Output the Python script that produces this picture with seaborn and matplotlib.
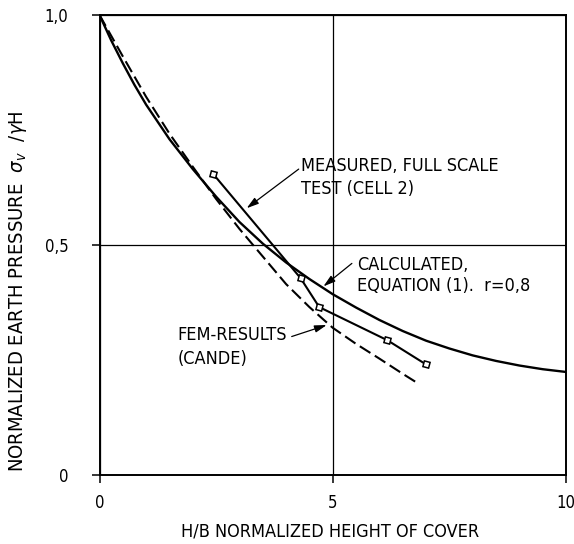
import matplotlib
matplotlib.use("Agg")
import matplotlib.pyplot as plt
import seaborn as sns
import pandas as pd

# ---- data ----
calc_x = [0, 0.25, 0.5, 0.75, 1, 1.5, 2, 2.5, 3, 3.5, 4, 4.5, 5, 5.5, 6, 6.5, 7, 7.5, 8, 8.5, 9, 9.5, 10]
calc_y = [1.0, 0.945, 0.895, 0.848, 0.805, 0.73, 0.665, 0.605, 0.55, 0.503, 0.462, 0.426, 0.393,
          0.364, 0.337, 0.313, 0.292, 0.275, 0.26, 0.248, 0.238, 0.23, 0.224]

fem_x = [0, 0.25, 0.5, 1, 1.5, 2, 2.5, 3, 3.5, 4, 4.5, 5, 5.5, 6, 6.5, 6.83]
fem_y = [1.0, 0.955, 0.91, 0.822, 0.742, 0.67, 0.60, 0.535, 0.475, 0.415, 0.365, 0.32, 0.285,
         0.253, 0.22, 0.199]

meas_x = [2.44, 4.31, 4.71, 6.17, 6.99]
meas_y = [0.654, 0.428, 0.365, 0.293, 0.241]

x_ticks = [0, 5, 10]
x_ticklabels = ["0", "5", "10"]
y_ticks = [0, 0.5, 1.0]
y_ticklabels = ["0", "0,5", "1,0"]

calc_df = pd.DataFrame({"x": calc_x, "y": calc_y})
fem_df = pd.DataFrame({"x": fem_x, "y": fem_y})
meas_df = pd.DataFrame({"x": meas_x, "y": meas_y})

sns.set_theme(style="ticks")
plt.rcParams["font.family"] = ["DejaVu Sans"]
plt.rcParams["font.stretch"] = "condensed"
plt.rcParams["text.color"] = "black"

W, H = 574, 544
fig = plt.figure(figsize=(W / 100, H / 100), dpi=100)
fig.patch.set_facecolor("white")
ax = fig.add_axes([99.5 / W, 1 - 475 / H, (566 - 99.5) / W, (475 - 15) / H])
ax.set_facecolor("white")

sns.lineplot(data=calc_df, x="x", y="y", ax=ax, color="black", lw=1.7, sort=False)
sns.lineplot(data=fem_df, x="x", y="y", ax=ax, color="black", lw=1.5, sort=False,
             dashes=False, linestyle=(0, (6, 2.5)))
sns.lineplot(data=meas_df, x="x", y="y", ax=ax, color="black", lw=1.5, sort=False,
             marker=(4, 0, 30), markersize=6, markerfacecolor="white",
             markeredgecolor="black", markeredgewidth=1.1)

ax.set_xlim(0, 10)
ax.set_ylim(0, 1)
ax.set_xticks(x_ticks)
ax.set_xticklabels(x_ticklabels)
ax.set_yticks(y_ticks)
ax.set_yticklabels(y_ticklabels)
ax.set_xlabel("")
ax.set_ylabel("")
ax.grid(True, color="black", lw=0.9)
for s in ax.spines.values():
    s.set_visible(True)
    s.set_color("black")
    s.set_linewidth(1.4)
ax.tick_params(axis="both", direction="out", length=5.5, width=1.1, colors="black",
               labelsize=12, labelcolor="black")
ax.tick_params(axis="y", pad=17)
ax.tick_params(axis="x", pad=8)

fs = 13
ax.text(4.31, 0.671, "MEASURED, FULL SCALE", fontsize=fs, va="center", ha="left")
ax.text(4.31, 0.622, "TEST (CELL 2)", fontsize=fs, va="center", ha="left")
ax.text(5.53, 0.4565, "CALCULATED,", fontsize=fs, va="center", ha="left")
ax.text(5.53, 0.41, "EQUATION (1).  r=0,8", fontsize=fs, va="center", ha="left")
ax.text(4.02, 0.2775, "FEM-RESULTS\n(CANDE)", fontsize=fs, va="center", ha="right",
        multialignment="left", linespacing=1.45)

arrow = dict(arrowstyle="-|>,head_length=0.6,head_width=0.18", lw=0.9, color="black",
             shrinkA=0, shrinkB=0)
ax.annotate("", xy=(3.155, 0.58), xytext=(4.27, 0.665), arrowprops=arrow)
ax.annotate("", xy=(4.80, 0.41), xytext=(5.41, 0.46), arrowprops=arrow)
ax.annotate("", xy=(4.87, 0.326), xytext=(4.12, 0.301), arrowprops=arrow)

fig.text(18 / W, 1 - 291 / H, r"NORMALIZED EARTH PRESSURE  $\sigma_v$  /$\gamma$H",
         rotation=90, ha="center", va="center", fontsize=14.5)
fig.text(330 / W, 1 - 531 / H, "H/B NORMALIZED HEIGHT OF COVER",
         ha="center", va="center", fontsize=fs)

fig.savefig("out.png", dpi=100, facecolor="white")
